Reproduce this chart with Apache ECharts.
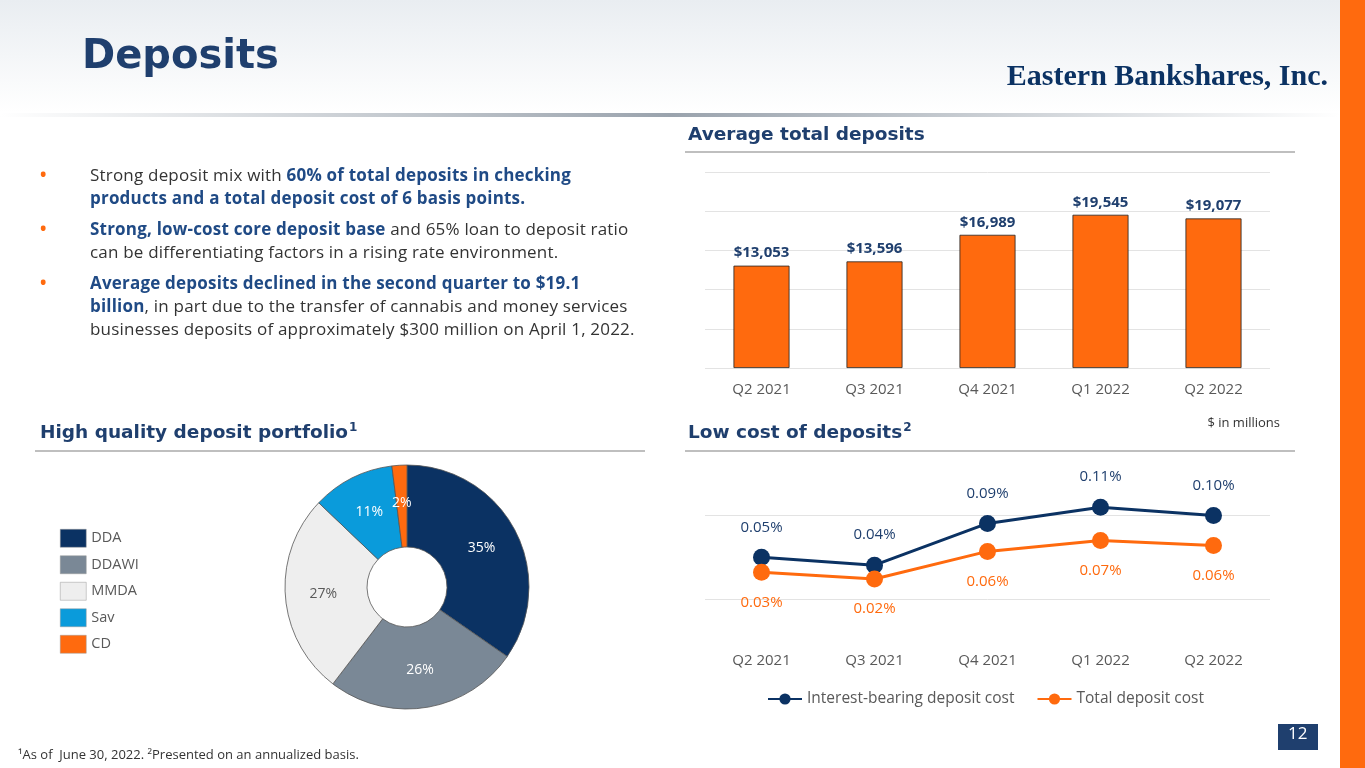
<!DOCTYPE html>
<html><head><meta charset="utf-8">
<script src="https://cdn.jsdelivr.net/npm/echarts@6/dist/echarts.min.js"></script>
<style>
body{margin:0;width:1365px;height:768px;overflow:hidden;background:#fff;font-family:"Open Sans",sans-serif;position:relative}
#c{position:absolute;left:0;top:0;width:1365px;height:768px}
.txt{position:absolute;color:#333;font-size:17px;line-height:23px;letter-spacing:0.2px}
.b{color:#1F4A85;font-weight:bold}
ul{margin:0;padding:0;list-style:none}
li{position:relative;margin-bottom:8px}
li:before{content:"•";color:#FF6A0E;position:absolute;left:-50px;font-weight:bold}
</style></head><body>
<div id="c"></div>
<div class="txt" style="left:90px;top:163px;width:548px">
<ul>
<li>Strong deposit mix with <span class="b">60% of total deposits in checking products and a total deposit cost of 6 basis points.</span></li>
<li><span class="b">Strong, low-cost core deposit base</span> and 65% loan to deposit ratio can be differentiating factors in a rising rate environment.</li>
<li><span class="b">Average deposits declined in the second quarter to $19.1 billion</span>, in part due to the transfer of cannabis and money services businesses deposits of approximately $300 million on April 1, 2022.</li>
</ul></div>
<script>
const quarters=['Q2 2021','Q3 2021','Q4 2021','Q1 2022','Q2 2022'];
const avgDeposits=[13053,13596,16989,19545,19077];
const interestBearingCost=[0.05,0.0405,0.0905,0.11,0.10];
const totalCost=[0.032,0.024,0.057,0.07,0.064];
const mixNames=['DDA','DDAWI','MMDA','Sav','CD'];
const mixValues=[35,26,27,11,2];
const mixColors=['#0B3263','#7A8896','#EEEEEE','#0A9BDB','#FF6A0E'];
const mixLabelColors=['#fff','#fff','#595959','#fff','#fff'];
const navy='#1F3F6E', orange='#FF6A0E', grey='#595959';
const ch=echarts.init(document.getElementById('c'));
const F='"Open Sans", sans-serif', D='"DejaVu Sans", sans-serif';
const head=(x,y,t,sup)=>({type:'text',left:x,top:y,style:{text:'{a|'+t+'}'+(sup?'{s|'+sup+'}':''),fill:navy,rich:{a:{font:'bold 18.5px '+D,fill:navy},s:{font:'bold 12px '+D,fill:navy,verticalAlign:'top',padding:[0,0,10,1]}}}});
const line=(x1,x2,y)=>({type:'line',shape:{x1:x1,y1:y,x2:x2,y2:y},style:{stroke:'#BFBFBF',lineWidth:2}});
ch.setOption({
 animation:false,
 textStyle:{fontFamily:F},
 graphic:[
  {type:'rect',shape:{x:0,y:0,width:1340,height:112},style:{fill:new echarts.graphic.LinearGradient(0,0,0,1,[{offset:0,color:'#E9EDF1'},{offset:1,color:'#FFFFFF'}])}},
  {type:'rect',shape:{x:0,y:113,width:1340,height:4},style:{fill:new echarts.graphic.LinearGradient(0,0,1,0,[{offset:0,color:'#FFFFFF'},{offset:0.5,color:'#9AA3AD'},{offset:1,color:'#FFFFFF'}])}},
  {type:'rect',shape:{x:1340,y:0,width:25,height:768},style:{fill:orange}},
  {type:'text',left:82,top:38,style:{text:'Deposits',font:'bold 40px '+D,fill:navy}},
  {type:'text',right:37,top:62,style:{text:'Eastern Bankshares, Inc.',font:'bold 30px "Liberation Serif", serif',fill:'#0B3263'}},
  head(688,126,'Average total deposits'),line(685,1295,152),
  head(40,422,'High quality deposit portfolio','1'),line(35,645,451),
  head(688,422,'Low cost of deposits','2'),line(685,1295,451),
  {type:'text',right:85,top:417,style:{text:'$ in millions',font:'13px '+F,fill:'#333'}},
  {type:'text',left:18,top:749,style:{text:'¹As of  June 30, 2022. ²Presented on an annualized basis.',font:'13px '+F,fill:'#333'}},
  {type:'rect',shape:{x:1278,y:724,width:40,height:26},style:{fill:navy}},
  {type:'text',left:1288,top:726,style:{text:'12',font:'17px '+F,fill:'#fff'}}
 ],
 legend:[{data:mixNames,orient:'vertical',left:55,top:524,itemWidth:26,itemHeight:18,itemGap:8,icon:'rect',textStyle:{color:grey,fontSize:14.5},itemStyle:{borderColor:'#999',borderWidth:0.5}},
  {data:['Interest-bearing deposit cost','Total deposit cost'],left:762,top:686,itemWidth:34,itemHeight:14,itemGap:22,textStyle:{color:grey,fontSize:15.5}}],
 grid:[{left:705,width:565,top:172,height:196},{left:705,width:565,top:432,height:167}],
 xAxis:[{gridIndex:0,type:'category',data:quarters,axisLine:{show:false},axisTick:{show:false},axisLabel:{color:grey,fontSize:15,margin:14}},
  {gridIndex:1,type:'category',data:quarters,axisLine:{show:false},axisTick:{show:false},axisLabel:{color:grey,fontSize:15,margin:54}}],
 yAxis:[{gridIndex:0,min:0,max:25000,interval:5000,axisLabel:{show:false},splitLine:{lineStyle:{color:'#E3E3E3'}}},
  {gridIndex:1,min:0,max:0.2,interval:0.1,axisLabel:{show:false},splitLine:{lineStyle:{color:['#E3E3E3','#E3E3E3','rgba(0,0,0,0)']}}}],
 series:[
  {type:'bar',xAxisIndex:0,yAxisIndex:0,data:avgDeposits,barWidth:56,itemStyle:{color:orange,borderColor:'#222',borderWidth:0.8},
   label:{show:true,position:'top',color:navy,fontWeight:'bold',fontSize:15,formatter:p=>'$'+p.value.toLocaleString('en-US')}},
  {type:'line',name:'Interest-bearing deposit cost',xAxisIndex:1,yAxisIndex:1,data:interestBearingCost,symbol:'circle',symbolSize:17,
   lineStyle:{color:'#0B3263',width:3},itemStyle:{color:'#0B3263'},label:{show:true,position:'top',distance:14,color:navy,fontSize:15,formatter:p=>p.value.toFixed(2)+'%'}},
  {type:'line',name:'Total deposit cost',xAxisIndex:1,yAxisIndex:1,data:totalCost,symbol:'circle',symbolSize:17,
   lineStyle:{color:orange,width:3},itemStyle:{color:orange},label:{show:true,position:'bottom',distance:14,color:orange,fontSize:15,formatter:p=>p.value.toFixed(2)+'%'}},
  {type:'pie',center:[407,587],radius:[40,122],startAngle:90,clockwise:true,
   data:mixNames.map((n,i)=>({name:n,value:mixValues[i],itemStyle:{color:mixColors[i]},label:{color:mixLabelColors[i]}})),
   itemStyle:{borderColor:'#555',borderWidth:0.8},
   label:{show:true,position:'inside',formatter:'{c}%',fontSize:14},labelLine:{show:false},
   emphasis:{disabled:true}}
 ]
});
</script></body></html>
